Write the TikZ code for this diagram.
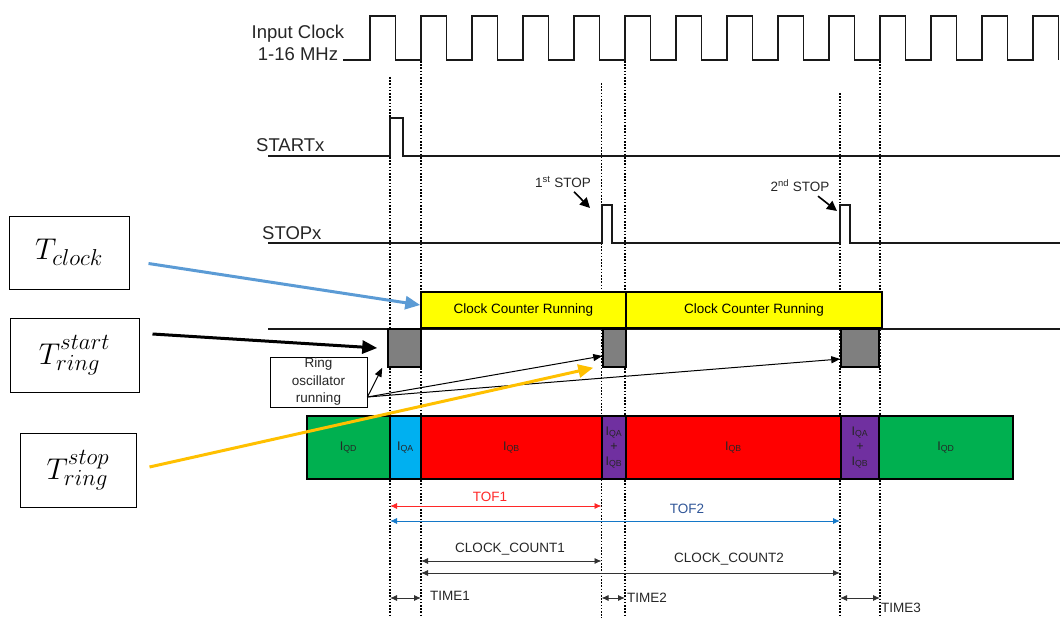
\RequirePackage{fix-cm}
\documentclass[tikz,border=0pt]{standalone}
\usepackage{fontspec}
\setmainfont{Liberation Sans}
\usetikzlibrary{arrows.meta}
\DeclareMathSizes{30}{30}{23}{18}

\definecolor{cgreen}{RGB}{0,176,80}
\definecolor{ccyan}{RGB}{0,176,240}
\definecolor{cred}{RGB}{255,0,0}
\definecolor{cpurple}{RGB}{112,48,160}
\definecolor{ccyellow}{RGB}{255,255,0}
\definecolor{rgray}{RGB}{127,127,127}
\definecolor{arblue}{RGB}{91,155,213}
\definecolor{arorange}{RGB}{255,192,0}
\definecolor{tofred}{RGB}{255,40,40}
\definecolor{tofblue}{RGB}{20,120,200}
\definecolor{tofbluetxt}{RGB}{47,85,151}

\newcommand{\Icur}[1]{I\textsubscript{#1}}

\begin{document}
\begin{tikzpicture}[x=1pt, y=-1pt, >=Latex,
  sig/.style={line width=1.5pt, draw=black!90},
  guide/.style={line width=1.3pt, dash pattern=on 1.6pt off 1.6pt},
  lbl/.style={font=\fontsize{18.5}{22}\selectfont, inner sep=0pt, text=black!85},
  smalltxt/.style={font=\fontsize{13.5}{16}\selectfont, inner sep=0pt, text=black!85},
  tbox/.style={draw, line width=1pt, inner sep=0pt, font=\fontsize{30}{36}\selectfont},
  ringbox/.style={draw, fill=rgray, line width=1.5pt, minimum height=38pt, inner sep=0pt},
  ccbox/.style={draw, fill=ccyellow, line width=1.5pt, minimum height=36pt, inner sep=0pt, font=\fontsize{13.5}{16}\selectfont},
  seg/.style={draw, line width=1.5pt, minimum height=63pt, inner sep=0pt, align=center, font=\fontsize{12.5}{15}\selectfont, text=black!85},
  dimarrow/.style={<->, line width=0.9pt, draw=black!80, >={Latex[length=7pt,width=6pt]}},
  fat/.style={line width=3pt, -{Triangle[length=15pt,width=13pt]}},
  thinarrow/.style={line width=1pt, -{Triangle[length=9pt,width=7pt]}},
  stoparrow/.style={line width=1.6pt, -{Triangle[length=10pt,width=10pt]}}]
\useasboundingbox (0,0) rectangle (1060,618);

% time marks
\coordinate (xs) at (390,0);
\coordinate (xc1) at (421,0);
\coordinate (xp1) at (601.5,0);
\coordinate (xc2) at (625,0);
\coordinate (xp2) at (840,0);
\coordinate (xc3) at (880,0);

% dotted guides
\draw[guide] (xs |- 0,77) -- (xs |- 0,618);
\draw[guide] (xc1 |- 0,61) -- (xc1 |- 0,618);
\draw[guide] (xp1 |- 0,83) -- (xp1 |- 0,618);
\draw[guide] (xc2 |- 0,61) -- (xc2 |- 0,618);
\draw[guide] (xp2 |- 0,93) -- (xp2 |- 0,618);
\draw[guide] (xc3 |- 0,61) -- (xc3 |- 0,618);

% signals
\node[lbl, align=center] (clk) at (298,43) {Input Clock\\1-16 MHz};
\draw[sig] (343,60) \foreach \k in {0,...,13} {
  -- ({370+51*\k},60) -- ({370+51*\k},16) -- ({395.5+51*\k},16) -- ({395.5+51*\k},60)};

\node[lbl, anchor=west] (start) at (256,145) {STARTx};
\draw[sig] (268,156) -- (390,156) -- (390,118) -- (403,118) -- (403,156) -- (1060,156);

\node[lbl, anchor=west] (stop) at (262,233) {STOPx};
\draw[sig] (268,243) -- (602,243) -- (602,205) -- (612,205) -- (612,243)
  -- (840,243) -- (840,205) -- (850,205) -- (850,243) -- (1060,243);

\node[smalltxt] (st1) at (563,182) {1\textsuperscript{st} STOP};
\coordinate (st1tip) at (590,208);
\draw[stoparrow] ([xshift=11pt,yshift=-4pt]st1.south) -- (st1tip);
\node[smalltxt] (st2) at (800,186) {2\textsuperscript{nd} STOP};
\coordinate (st2tip) at (837,211);
\draw[stoparrow] ([xshift=18pt,yshift=-4pt]st2.south) -- (st2tip);

\draw[sig] (268,329) -- (1060,329);

% counters and ring oscillator
\node[ccbox, minimum width=205pt] (ccA) at (523.5,310) {Clock Counter Running};
\node[ccbox, minimum width=256pt] (ccB) at (754,310) {Clock Counter Running};
\node[ringbox, minimum width=33pt] (g1) at (404.5,348) {};
\node[ringbox, minimum width=23pt] (g2) at (614.5,348) {};
\node[ringbox, minimum width=38pt] (g3) at (860,348) {};

\node[draw, line width=0.8pt, align=center, minimum width=97pt, minimum height=50pt,
  inner sep=0pt, font=\fontsize{13.5}{17.5}\selectfont, text=black!85] (ring) at (318.5,382)
  {Ring\\oscillator\\running};
\coordinate (rout) at ([yshift=-15pt]ring.east);
\draw[thinarrow] (rout) -- ([xshift=-5pt]g1.south west);
\draw[thinarrow] (rout) -- ([yshift=-8pt]g2.west);
\draw[thinarrow] (rout) -- ([yshift=-11pt]g3.west);

% supply current
\node[seg, fill=cgreen, minimum width=83pt] (qd1) at (348.5,447.5) {\Icur{QD}};
\node[seg, fill=ccyan, minimum width=31pt] (qa) at (405.5,447.5) {\Icur{QA}};
\node[seg, fill=cred, minimum width=181pt] (qb1) at (511.5,447.5) {\Icur{QB}};
\node[seg, fill=cpurple, minimum width=24pt] (qab1) at (614,447.5) {\Icur{QA}\\+\\\Icur{QB}};
\node[seg, fill=cred, minimum width=215pt] (qb2) at (733.5,447.5) {\Icur{QB}};
\node[seg, fill=cpurple, minimum width=38pt] (qab2) at (860,447.5) {\Icur{QA}\\+\\\Icur{QB}};
\node[seg, fill=cgreen, minimum width=134pt] (qd2) at (946,447.5) {\Icur{QD}};

% time boxes
\node[tbox, minimum width=120pt, minimum height=73pt] (tclk) at (69,252.5) {$T_{clock}$};
\node[tbox, minimum width=129pt, minimum height=74pt] (tstart) at (74.5,355) {$T^{start\vphantom{g}}_{ring}$};
\node[tbox, minimum width=116pt, minimum height=74pt] (tstop) at (78,470) {$T^{stop}_{ring}$};
\draw[fat, arblue] ([xshift=19pt,yshift=-11pt]tclk.east) -- ([yshift=5pt]ccA.west);
\draw[fat, black] ([xshift=13pt,yshift=21pt]tstart.east) -- ([xshift=-10pt]g1.west);
\draw[fat, arorange] ([xshift=13pt,yshift=3pt]tstop.east) -- ([xshift=-9pt]g2.south west);

% intervals
\draw[dimarrow, draw=tofred] (xs |- 0,506) -- (xp1 |- 0,506);
\node[smalltxt, text=tofred] (tof1) at (490,497) {TOF1};
\draw[dimarrow, draw=tofblue] (xs |- 0,521) -- (xp2 |- 0,521);
\node[smalltxt, text=tofbluetxt] (tof2) at (687,509) {TOF2};
\draw[dimarrow] (xc1 |- 0,561) -- (xp1 |- 0,561);
\node[smalltxt] (cnt1) at (510,549) {CLOCK\_COUNT1};
\draw[dimarrow] (xc1 |- 0,573) -- (xp2 |- 0,573);
\node[smalltxt] (cnt2) at (729,559) {CLOCK\_COUNT2};
\draw[dimarrow] (xs |- 0,598) -- (xc1 |- 0,598);
\node[smalltxt, anchor=west] (time1) at (430,596) {TIME1};
\draw[dimarrow] (xp1 |- 0,598) -- (xc2 |- 0,598);
\node[smalltxt, anchor=west] (time2) at (627,598) {TIME2};
\draw[dimarrow] (xp2 |- 0,598) -- (xc3 |- 0,598);
\node[smalltxt, anchor=west] (time3) at (881,608) {TIME3};
\end{tikzpicture}
\end{document}
